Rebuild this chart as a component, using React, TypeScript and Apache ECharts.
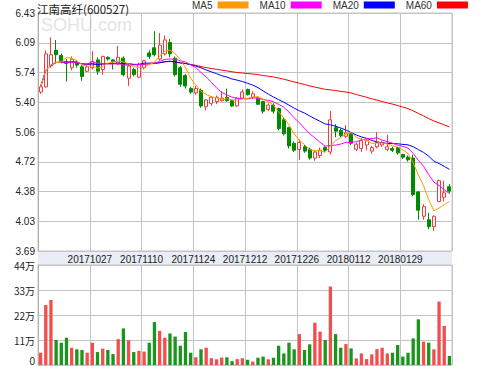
import React, { useEffect, useRef } from 'react';
import * as echarts from 'echarts';

const dates = [
  '20171013','20171016','20171017','20171018','20171019','20171020','20171023','20171024','20171025','20171026',
  '20171027','20171030','20171031','20171101','20171102','20171103','20171106','20171107','20171108','20171109',
  '20171110','20171113','20171114','20171115','20171116','20171117','20171120','20171121','20171122','20171123',
  '20171124','20171127','20171128','20171129','20171130','20171201','20171204','20171205','20171206','20171207',
  '20171212','20171213','20171214','20171215','20171218','20171219','20171220','20171221','20171222','20171225',
  '20171226','20171227','20171228','20171229','20180102','20180103','20180104','20180105','20180108','20180109',
  '20180112','20180115','20180116','20180117','20180118','20180119','20180122','20180123','20180124','20180125',
  '20180129','20180130','20180131','20180201','20180202','20180205','20180206','20180207','20180208','20180209',
];
const tickDates = ['20171027','20171110','20171124','20171212','20171226','20180112','20180129'];

const opens = [
  5.52,5.58,5.82,6.00,5.94,5.87,5.80,5.86,5.81,5.76,
  5.80,5.89,5.78,5.92,5.89,5.84,5.91,5.68,5.78,5.69,
  5.80,5.97,6.03,5.90,5.96,6.09,5.91,5.80,5.71,5.56,
  5.51,5.54,5.35,5.39,5.41,5.42,5.46,5.42,5.36,5.45,
  5.55,5.46,5.45,5.41,5.32,5.37,5.33,5.20,5.11,4.93,
  4.86,4.89,4.86,4.76,4.79,4.88,4.83,5.11,5.08,5.01,
  5.04,4.86,4.87,4.91,4.84,4.89,4.91,4.86,4.87,4.88,
  4.80,4.77,4.76,4.37,4.09,4.05,3.97,4.26,4.31,4.43,
];
const closes = [
  5.58,5.96,5.95,5.95,5.88,5.85,5.90,5.83,5.70,5.81,
  5.87,5.76,5.93,5.90,5.87,5.92,5.72,5.82,5.72,5.84,
  5.88,5.93,5.95,6.06,6.12,5.96,5.72,5.61,5.59,5.52,
  5.56,5.36,5.43,5.46,5.46,5.45,5.42,5.36,5.45,5.52,
  5.49,5.50,5.38,5.30,5.37,5.30,5.10,5.04,4.90,4.85,
  4.94,4.84,4.76,4.83,4.85,4.85,5.20,5.07,5.02,5.05,
  4.93,4.92,4.96,4.96,4.88,4.94,4.94,4.89,4.85,4.82,
  4.77,4.74,4.34,4.16,4.20,3.97,4.09,4.50,4.36,4.38,
];
const lows = [
  5.50,5.57,5.80,5.86,5.85,5.64,5.77,5.80,5.65,5.75,
  5.78,5.72,5.72,5.88,5.78,5.83,5.70,5.59,5.70,5.68,
  5.78,5.90,5.93,5.88,5.94,5.92,5.70,5.58,5.56,5.50,
  5.49,5.34,5.31,5.36,5.38,5.41,5.41,5.35,5.35,5.44,
  5.48,5.44,5.37,5.27,5.30,5.27,5.08,5.02,4.87,4.83,
  4.74,4.82,4.74,4.73,4.76,4.83,4.80,5.00,5.00,4.99,
  4.91,4.84,4.83,4.85,4.81,4.87,4.89,4.84,4.83,4.80,
  4.75,4.72,4.32,4.05,4.05,3.94,3.92,4.25,4.26,4.35,
];
const highs = [
  5.59,6.00,6.15,6.12,5.96,5.90,5.93,5.88,5.83,5.83,
  5.99,5.92,5.94,5.93,5.90,6.05,5.93,5.84,5.80,5.86,
  5.89,6.00,6.22,6.20,6.17,6.13,5.93,5.82,5.73,5.58,
  5.59,5.56,5.44,5.47,5.48,5.53,5.56,5.43,5.46,5.55,
  5.56,5.53,5.46,5.42,5.39,5.39,5.34,5.22,5.12,4.95,
  4.97,4.91,4.88,4.85,4.88,4.90,5.30,5.15,5.10,5.14,
  5.06,4.94,4.99,4.98,4.90,5.06,4.96,5.03,4.89,4.89,
  4.81,4.79,4.80,4.38,4.23,4.13,4.10,4.51,4.50,4.46,
];
// moving averages as drawn in the chart
const ma5 = [
  5.58,5.77,5.83,5.86,5.864,5.918,5.906,5.882,5.832,5.818,
  5.822,5.794,5.814,5.854,5.866,5.876,5.868,5.846,5.810,5.804,
  5.796,5.838,5.864,5.932,5.988,6.004,5.962,5.894,5.800,5.680,
  5.600,5.528,5.492,5.466,5.454,5.432,5.444,5.430,5.428,5.440,
  5.448,5.464,5.468,5.438,5.408,5.370,5.290,5.222,5.142,5.038,
  4.966,4.914,4.858,4.844,4.844,4.826,4.898,4.960,4.998,5.038,
  5.054,4.998,4.976,4.964,4.930,4.932,4.936,4.922,4.900,4.888,
  4.854,4.814,4.704,4.566,4.442,4.282,4.152,4.184,4.224,4.260,
];
const ma10 = [
  5.58,5.77,5.83,5.86,5.864,5.862,5.867,5.863,5.844,5.841,
  5.870,5.850,5.848,5.843,5.842,5.849,5.831,5.830,5.832,5.835,
  5.836,5.853,5.855,5.871,5.896,5.900,5.900,5.879,5.866,5.834,
  5.802,5.745,5.693,5.633,5.567,5.516,5.486,5.461,5.447,5.447,
  5.440,5.454,5.449,5.433,5.424,5.409,5.377,5.345,5.290,5.223,
  5.168,5.102,5.040,4.993,4.941,4.896,4.906,4.909,4.921,4.941,
  4.940,4.948,4.968,4.981,4.984,4.993,4.967,4.949,4.932,4.909,
  4.893,4.875,4.813,4.733,4.665,4.568,4.483,4.444,4.395,4.351,
];
const ma20 = [
  5.58,5.77,5.83,5.86,5.864,5.862,5.867,5.863,5.844,5.841,
  5.844,5.837,5.844,5.848,5.849,5.854,5.846,5.844,5.838,5.838,
  5.853,5.852,5.852,5.857,5.869,5.875,5.866,5.855,5.849,5.835,
  5.819,5.799,5.774,5.752,5.732,5.708,5.693,5.670,5.657,5.641,
  5.621,5.600,5.571,5.533,5.496,5.463,5.432,5.403,5.369,5.335,
  5.304,5.278,5.245,5.213,5.183,5.153,5.142,5.127,5.106,5.082,
  5.054,5.025,5.004,4.987,4.963,4.945,4.937,4.929,4.927,4.925,
  4.917,4.912,4.891,4.857,4.825,4.781,4.725,4.697,4.664,4.630,
];
const ma60 = [
  5.58,5.77,5.83,5.86,5.864,5.862,5.867,5.863,5.844,5.841,
  5.844,5.837,5.844,5.848,5.849,5.854,5.846,5.844,5.838,5.838,
  5.840,5.844,5.849,5.858,5.868,5.872,5.866,5.857,5.848,5.837,
  5.828,5.813,5.802,5.791,5.782,5.773,5.763,5.753,5.745,5.739,
  5.733,5.728,5.720,5.710,5.702,5.694,5.681,5.668,5.652,5.636,
  5.622,5.607,5.591,5.577,5.564,5.551,5.545,5.537,5.528,5.520,
  5.509,5.492,5.476,5.459,5.442,5.427,5.411,5.396,5.381,5.365,
  5.347,5.330,5.303,5.274,5.246,5.214,5.187,5.165,5.142,5.118,
];
// volume in 万
const volumes = [
  5.4,26.4,28.6,11.0,9.8,12.0,7.6,6.9,6.6,5.4,
  9.8,5.7,7.2,6.6,4.8,11.4,16.1,10.9,5.7,6.2,
  5.9,9.8,18.9,15.0,12.0,13.9,12.5,8.5,14.5,5.4,
  3.4,6.9,7.6,3.0,2.5,3.3,3.4,1.7,2.6,3.0,
  2.3,1.5,3.2,3.7,2.5,3.2,8.5,5.1,9.8,6.9,
  13.6,6.6,9.1,18.6,14.7,11.0,34.5,13.6,7.6,9.2,
  7.3,2.9,5.1,2.6,4.7,7.0,7.6,5.1,5.4,8.8,
  3.7,5.4,11.7,20.1,10.3,9.8,6.9,27.9,17.2,4.0,
];
const priceTickLabels = ['3.69','4.03','4.38','4.72','5.06','5.40','5.74','6.09','6.43'];
const volTickLabels = ['0','11万','22万','33万','44万'];
const maNames = ['MA5','MA10','MA20','MA60'];
const maColors = ['#ff9900','#ff00ff','#0000ff','#ff0000'];
const maSeries = [ma5, ma10, ma20, ma60];

const UP = '#f03c3c';
const DOWN = '#008a00';
const VUP = '#f24e4e';
const VDOWN = '#1a941a';
const FONT = 'Liberation Sans';

export default function App() {
  const ref = useRef<HTMLDivElement>(null);
  useEffect(() => {
    if (!ref.current) return;
    const chart = echarts.init(ref.current, undefined, { renderer: 'svg' });
    const candleData = opens.map((o, i) => [o, closes[i], lows[i], highs[i]]);
    const showTick = (i: number, v: string) => tickDates.indexOf(v) >= 0;
    const splitEvery = (i: number, v: string) => i === 0 || tickDates.indexOf(v) >= 0;
    chart.setOption({
      animation: false,
      backgroundColor: '#ffffff',
      title: {
        text: '江南高纤(600527)', left: 37, top: 2, padding: 0,
        textStyle: { fontSize: 11.5, fontWeight: 'normal', color: '#222', fontFamily: 'Noto Sans CJK SC', lineHeight: 13 },
      },
      legend: {
        data: maNames, left: 192, top: 0, padding: 0, itemWidth: 31, itemHeight: 7, itemGap: 11,
        align: 'right', icon: 'rect', selectedMode: false,
        textStyle: { fontSize: 10, color: '#333', fontFamily: FONT },
      },
      graphic: [
        { type: 'rect', z: -10, shape: { x: 38, y: 251, width: 414, height: 14 }, style: { fill: '#e9edf6' } },
        { type: 'text', z: -10, x: 41, y: 16, style: { text: 'SOHU.com', font: '18px Arial', fill: '#e4e4e4' } },
      ],
      grid: [
        { left: 38, right: 47, top: 13, height: 238, show: true, borderColor: '#c4c4c4', borderWidth: 1 },
        { left: 38, right: 47, top: 265, height: 100, show: true, borderColor: '#c4c4c4', borderWidth: 1 },
      ],
      xAxis: [
        {
          type: 'category', gridIndex: 0, data: dates, boundaryGap: true,
          axisLine: { show: false }, axisTick: { show: false },
          axisLabel: { interval: showTick, fontSize: 10, color: '#222', fontFamily: FONT, margin: 3, padding: [0, 5, 0, 0] },
          splitLine: { show: true, interval: splitEvery, lineStyle: { color: '#c4c4c4', width: 1 } },
        },
        {
          type: 'category', gridIndex: 1, data: dates, boundaryGap: true,
          axisLine: { show: false }, axisTick: { show: false }, axisLabel: { show: false },
          splitLine: { show: true, interval: splitEvery, lineStyle: { color: '#c4c4c4', width: 1 } },
        },
      ],
      yAxis: [
        { type: 'value', gridIndex: 0, min: 3.69, max: 6.43, show: false, splitLine: { show: false } },
        {
          type: 'value', gridIndex: 0, min: 0, max: 8, interval: 1, position: 'left',
          axisLine: { show: true, lineStyle: { color: '#b0b0b0' } }, axisTick: { show: false },
          axisLabel: { formatter: (v: number) => priceTickLabels[Math.round(v)], fontSize: 10, color: '#222', fontFamily: FONT, margin: 3 },
          splitLine: { show: true, lineStyle: { color: '#c4c4c4', width: 1 } },
        },
        {
          type: 'value', gridIndex: 1, min: 0, max: 44, interval: 11, position: 'left',
          axisLine: { show: true, lineStyle: { color: '#b0b0b0' } }, axisTick: { show: false },
          axisLabel: {
            formatter: (v: number) => (v === 0 ? '{z|0}' : volTickLabels[Math.round(v / 11)]),
            fontSize: 10, color: '#222', fontFamily: 'Noto Sans CJK SC', margin: 3,
            rich: { z: { fontSize: 10, color: '#222', fontFamily: FONT, padding: [0, 0, 8, 0] } },
          },
          splitLine: { show: true, lineStyle: { color: '#c4c4c4', width: 1 } },
        },
      ],
      series: [
        {
          name: 'K', type: 'candlestick', xAxisIndex: 0, yAxisIndex: 0, data: candleData, barWidth: '68%',
          itemStyle: { color: '#ffffff', color0: DOWN, borderColor: UP, borderColor0: DOWN, borderWidth: 1 },
        },
        ...[3, 2, 1, 0].map((k) => ({
          name: maNames[k], type: 'line', xAxisIndex: 0, yAxisIndex: 0, data: maSeries[k],
          showSymbol: false, symbol: 'none', smooth: false,
          lineStyle: { color: maColors[k], width: 1 }, itemStyle: { color: maColors[k] },
        })),
        {
          name: 'VOL', type: 'bar', xAxisIndex: 1, yAxisIndex: 2, barWidth: '64%',
          data: volumes.map((v, i) => ({ value: v, itemStyle: { color: closes[i] >= opens[i] ? VUP : VDOWN } })),
        },
      ],
    });
    return () => chart.dispose();
  }, []);
  return <div ref={ref} style={{ position: 'fixed', left: 0, top: 0, width: 499, height: 366 }} />;
}
